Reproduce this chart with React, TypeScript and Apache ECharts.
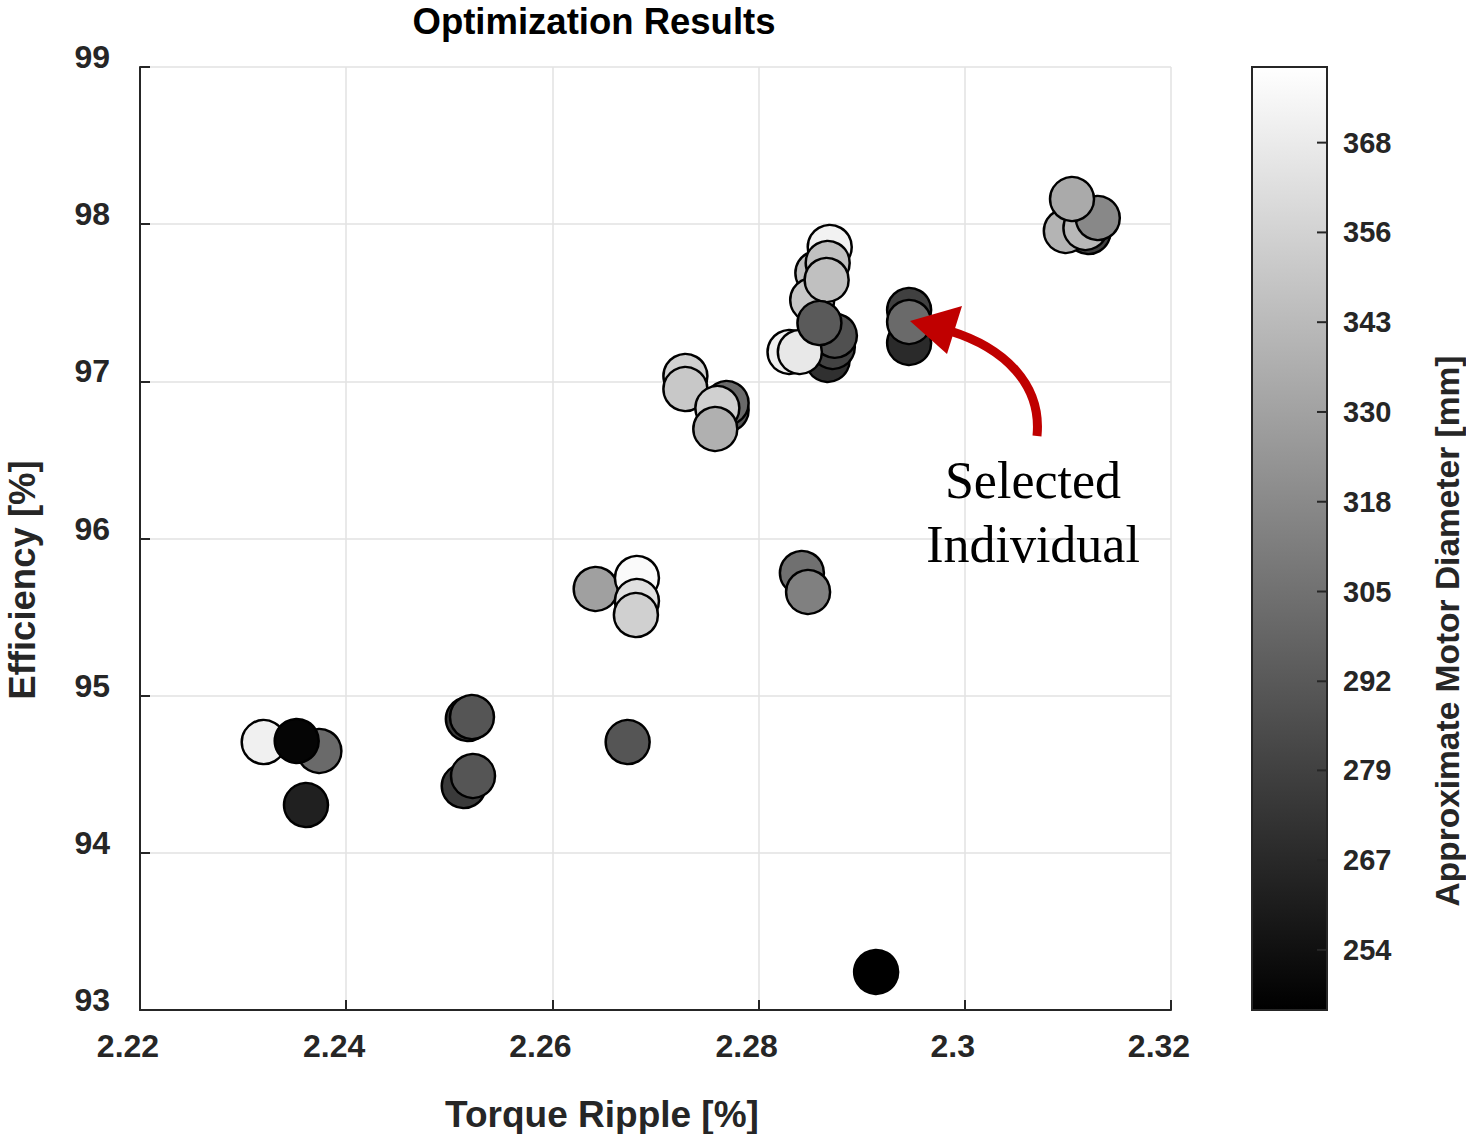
import React, { useEffect, useRef } from "react";
import * as echarts from "echarts";

// Torque ripple [%] (x), efficiency [%] (y), approximate motor diameter [mm] (colour)
const rippleValues = [
  2.2320, 2.2374, 2.2352, 2.2361,
  2.2518, 2.2522, 2.2514, 2.2523, 2.2673,
  2.2642, 2.2682, 2.2682, 2.2681,
  2.2842, 2.2848,
  2.2769, 2.2769, 2.2729, 2.2729, 2.2760, 2.2758,
  2.2867, 2.2872, 2.2874, 2.2830, 2.2840, 2.2869, 2.2857, 2.2867, 2.2852, 2.2866, 2.2859,
  2.2946, 2.2946, 2.2946,
  2.3120, 2.3098, 2.3117, 2.3129, 2.3104,
  2.2914,
];
const efficiencyValues = [
  94.705, 94.648, 94.712, 94.304,
  94.851, 94.864, 94.425, 94.489, 94.705,
  95.679, 95.749, 95.602, 95.513,
  95.781, 95.660,
  96.818, 96.862, 97.034, 96.951, 96.830, 96.697,
  97.136, 97.219, 97.290, 97.187, 97.187, 97.855, 97.690, 97.753, 97.518, 97.645, 97.371,
  97.454, 97.244, 97.378,
  97.950, 97.957, 97.976, 98.039, 98.160,
  93.242,
];
const diameterValues = [
  370.9, 300.9, 248.0, 262.1,
  275.7, 289.9, 275.7, 289.9, 289.9,
  329.1, 376.2, 362.6, 354.2,
  304.0, 312.4,
  289.9, 300.9, 354.2, 350.0, 354.2, 337.5,
  270.5, 280.0, 287.3, 371.0, 366.8, 372.0, 345.8, 345.8, 350.0, 345.8, 292.5,
  278.9, 267.4, 300.9,
  279.0, 339.6, 341.7, 316.5, 334.3,
  245.4,
];

const xTickValues = [2.22, 2.24, 2.26, 2.28, 2.3, 2.32];
const yTickValues = [93, 94, 95, 96, 97, 98, 99];
const colorbarMin = 245.4;
const colorbarMax = 378.8;
const colorbarTickValues = [253.9, 266.6, 279.3, 291.9, 304.6, 317.3, 330.0, 342.7, 355.4, 368.1];
const colorbarTickLabels = ["254", "267", "279", "292", "305", "318", "330", "343", "356", "368"];

const SANS = "'Liberation Sans', Arial, Helvetica, sans-serif";
const SERIF = "'Liberation Serif', 'Times New Roman', serif";
const INK = "#262626";

export default function App() {
  const ref = useRef<HTMLDivElement>(null);

  useEffect(() => {
    if (!ref.current) return;
    const chart = echarts.init(ref.current, undefined, { renderer: "svg" });
    const points = rippleValues.map((x, i) => [x, efficiencyValues[i], diameterValues[i]]);

    const option: any = {
      animation: false,
      backgroundColor: "#ffffff",
      grid: [
        { left: 140, top: 67, width: 1031, height: 943 },
        { left: 1252, top: 67, width: 75, height: 943 },
      ],
      xAxis: [
        {
          type: "value",
          gridIndex: 0,
          min: xTickValues[0],
          max: xTickValues[xTickValues.length - 1],
          interval: 0.02,
          axisLine: { show: true, onZero: false, lineStyle: { color: INK, width: 2 } },
          axisTick: { show: true, inside: true, length: 10, lineStyle: { color: INK, width: 2 } },
          axisLabel: {
            show: true,
            margin: 20,
            fontFamily: SANS,
            fontWeight: "bold",
            fontSize: 32,
            color: INK,
            padding: [0, 24, 0, 0],
            formatter: (v: number) => String(+v.toFixed(2)),
          },
          splitLine: { show: true, lineStyle: { color: "#e2e2e2", width: 1.5 } },
        },
        { type: "value", gridIndex: 1, min: 0, max: 1, show: false },
      ],
      yAxis: [
        {
          type: "value",
          gridIndex: 0,
          min: yTickValues[0],
          max: yTickValues[yTickValues.length - 1],
          interval: 1,
          axisLine: { show: true, onZero: false, lineStyle: { color: INK, width: 2 } },
          axisTick: { show: true, inside: true, length: 10, lineStyle: { color: INK, width: 2 } },
          axisLabel: {
            show: true,
            margin: 30,
            fontFamily: SANS,
            fontWeight: "bold",
            fontSize: 32,
            color: INK,
            verticalAlign: "bottom",
            lineHeight: 20,
          },
          splitLine: { show: true, lineStyle: { color: "#e2e2e2", width: 1.5 } },
        },
        { type: "value", gridIndex: 1, min: colorbarMin, max: colorbarMax, show: false },
      ],
      visualMap: {
        type: "continuous",
        show: false,
        seriesIndex: 0,
        dimension: 2,
        min: colorbarMin,
        max: colorbarMax,
        inRange: { color: ["#000000", "#ffffff"] },
      },
      series: [
        {
          type: "scatter",
          xAxisIndex: 0,
          yAxisIndex: 0,
          data: points,
          symbol: "circle",
          symbolSize: 44,
          itemStyle: { borderColor: "#000000", borderWidth: 2.5, opacity: 1 },
          z: 3,
        },
        {
          type: "custom",
          xAxisIndex: 1,
          yAxisIndex: 1,
          data: [[0, colorbarMin]],
          renderItem: (_p: any, api: any) => {
            const tl = api.coord([0, colorbarMax]);
            const br = api.coord([1, colorbarMin]);
            return {
              type: "rect",
              shape: { x: tl[0], y: tl[1], width: br[0] - tl[0], height: br[1] - tl[1] },
              style: {
                fill: new echarts.graphic.LinearGradient(0, 0, 0, 1, [
                  { offset: 0, color: "#ffffff" },
                  { offset: 1, color: "#000000" },
                ]),
                stroke: INK,
                lineWidth: 2,
              },
            };
          },
          z: 2,
        },
        {
          type: "custom",
          xAxisIndex: 1,
          yAxisIndex: 1,
          data: colorbarTickValues.map((v) => [1, v]),
          renderItem: (params: any, api: any) => {
            const p = api.coord([1, api.value(1)]);
            return {
              type: "group",
              children: [
                {
                  type: "line",
                  shape: { x1: p[0] - 10, y1: p[1], x2: p[0], y2: p[1] },
                  style: { stroke: INK, lineWidth: 2 },
                },
                {
                  type: "text",
                  x: p[0] + 16,
                  y: p[1],
                  style: {
                    text: colorbarTickLabels[params.dataIndex],
                    fill: INK,
                    font: `bold 29px ${SANS}`,
                    align: "left",
                    verticalAlign: "middle",
                  },
                },
              ],
            };
          },
          z: 4,
        },
      ],
      graphic: [
        {
          type: "text",
          x: 594,
          y: 21,
          style: {
            text: "Optimization Results",
            fill: "#000000",
            font: `bold 36.5px ${SANS}`,
            align: "center",
            verticalAlign: "middle",
          },
        },
        {
          type: "text",
          x: 602,
          y: 1114,
          style: {
            text: "Torque Ripple [%]",
            fill: INK,
            font: `bold 37px ${SANS}`,
            align: "center",
            verticalAlign: "middle",
          },
        },
        {
          type: "text",
          x: 22,
          y: 580,
          rotation: Math.PI / 2,
          style: {
            text: "Efficiency [%]",
            fill: INK,
            font: `bold 36.5px ${SANS}`,
            align: "center",
            verticalAlign: "middle",
          },
        },
        {
          type: "text",
          x: 1447,
          y: 631,
          rotation: Math.PI / 2,
          style: {
            text: "Approximate Motor Diameter [mm]",
            fill: INK,
            font: `bold 33.5px ${SANS}`,
            align: "center",
            verticalAlign: "middle",
          },
        },
        {
          type: "bezierCurve",
          shape: { x1: 1037, y1: 436, cpx1: 1042, cpy1: 385, cpx2: 1005, cpy2: 348, x2: 950, y2: 331 },
          style: { stroke: "#c00000", lineWidth: 9, fill: null, lineCap: "butt" },
          z: 10,
        },
        {
          type: "polygon",
          shape: { points: [[910, 321], [962, 306], [947, 354]] },
          style: { fill: "#c00000" },
          z: 10,
        },
        {
          type: "text",
          x: 1033,
          y: 480,
          style: {
            text: "Selected",
            fill: "#000000",
            font: `52px ${SERIF}`,
            align: "center",
            verticalAlign: "middle",
          },
          z: 10,
        },
        {
          type: "text",
          x: 1033,
          y: 544,
          style: {
            text: "Individual",
            fill: "#000000",
            font: `52px ${SERIF}`,
            align: "center",
            verticalAlign: "middle",
          },
          z: 10,
        },
      ],
    };

    chart.setOption(option);
    return () => chart.dispose();
  }, []);

  return (
    <div
      ref={ref}
      style={{ position: "absolute", left: 0, top: 0, width: 1466, height: 1134 }}
    />
  );
}
